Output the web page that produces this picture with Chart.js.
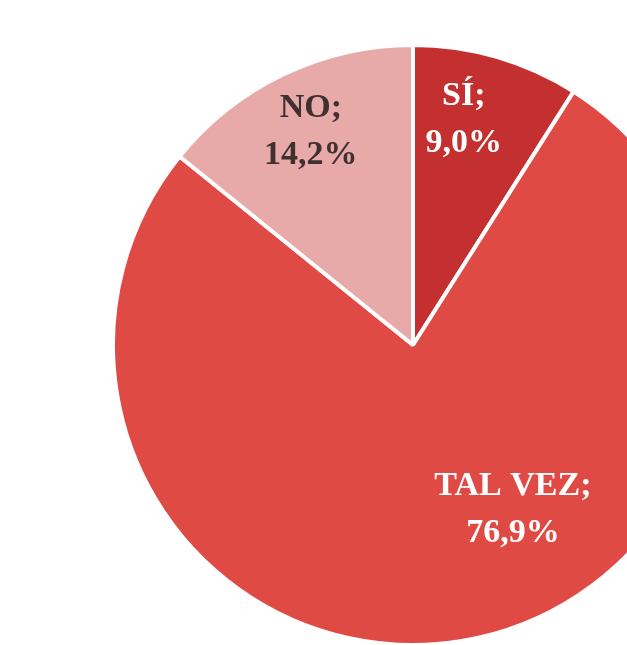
<!DOCTYPE html>
<html>
<head>
<meta charset="utf-8">
<script src="https://cdn.jsdelivr.net/npm/chart.js@4/dist/chart.umd.min.js"></script>
<style>
  html, body { margin: 0; padding: 0; background: #ffffff; }
  #frame { position: relative; width: 627px; height: 645px; overflow: hidden; }
  #pieBox { position: absolute; left: 111px; top: 43px; width: 604px; height: 604px; }
</style>
</head>
<body>
<div id="frame">
  <div id="pieBox"><canvas id="pieChart"></canvas></div>
</div>
<script>
const answers = ['SÍ', 'TAL VEZ', 'NO'];
const shares = [9.0, 76.9, 14.2];
const sliceColors = ['#c3302f', '#e04a45', '#e8aaa9'];
const labelColors = ['#ffffff', '#ffffff', '#413030'];

// where each label sits: fraction of radius and angle shift from slice middle (deg)
const labelSpots = [
    { frac: 0.77, shift: -3.5 },
    { frac: 0.64, shift: -22 },
    { frac: 0.79, shift: 0 }
];

const sliceLabels = {
    id: 'sliceLabels',
    afterDatasetsDraw(chart) {
        const ctx = chart.ctx;
        const meta = chart.getDatasetMeta(0);
        ctx.save();
        ctx.font = 'bold 34px "Liberation Serif", "DejaVu Serif", serif';
        ctx.textAlign = 'center';
        ctx.textBaseline = 'middle';
        meta.data.forEach((arc, i) => {
            const p = arc.getProps(['x', 'y', 'startAngle', 'endAngle', 'outerRadius'], true);
            const mid = (p.startAngle + p.endAngle) / 2 + labelSpots[i].shift * Math.PI / 180;
            const r = p.outerRadius * labelSpots[i].frac;
            const cx = p.x + r * Math.cos(mid);
            const cy = p.y + r * Math.sin(mid);
            const value = shares[i].toFixed(1).replace('.', ',') + '%';
            ctx.fillStyle = labelColors[i];
            ctx.fillText(answers[i] + ';', cx, cy - 23);
            ctx.fillText(value, cx, cy + 24);
        });
        ctx.restore();
    }
};

new Chart(document.getElementById('pieChart'), {
    type: 'pie',
    data: {
        labels: answers,
        datasets: [{
            data: shares,
            backgroundColor: sliceColors,
            borderColor: '#ffffff',
            borderWidth: 4
        }]
    },
    options: {
        responsive: true,
        maintainAspectRatio: false,
        animation: false,
        layout: { padding: 0 },
        plugins: {
            legend: { display: false },
            tooltip: { enabled: false }
        }
    },
    plugins: [sliceLabels]
});
</script>
</body>
</html>
